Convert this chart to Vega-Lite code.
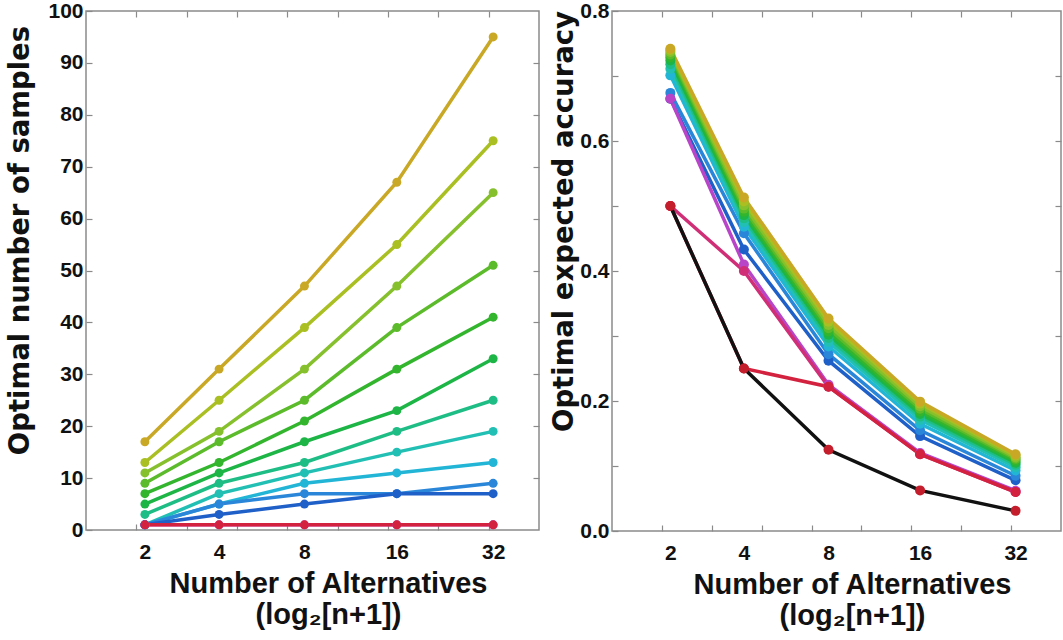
{
  "$schema": "https://vega.github.io/schema/vega-lite/v6.json",
  "padding": {"left": 6, "top": -1, "right": 0, "bottom": 0},
  "background": "white",
  "spacing": 9,
  "config": {
    "view": {"stroke": "#8a8a8a", "strokeWidth": 1.5},
    "axis": {
      "labelFont": "Liberation Sans",
      "labelFontWeight": "bold",
      "labelFontSize": 21,
      "labelColor": "#111",
      "titleFont": "Liberation Sans",
      "titleFontWeight": "bold",
      "titleColor": "#111",
      "tickColor": "#8a8a8a",
      "tickWidth": 1.2,
      "domain": false,
      "grid": false
    }
  },
  "datasets": {
    "samples": [
      {"s": "A", "n": 2, "v": 17}, {"s": "A", "n": 4, "v": 31}, {"s": "A", "n": 8, "v": 47}, {"s": "A", "n": 16, "v": 67}, {"s": "A", "n": 32, "v": 95},
      {"s": "B", "n": 2, "v": 13}, {"s": "B", "n": 4, "v": 25}, {"s": "B", "n": 8, "v": 39}, {"s": "B", "n": 16, "v": 55}, {"s": "B", "n": 32, "v": 75},
      {"s": "C", "n": 2, "v": 11}, {"s": "C", "n": 4, "v": 19}, {"s": "C", "n": 8, "v": 31}, {"s": "C", "n": 16, "v": 47}, {"s": "C", "n": 32, "v": 65},
      {"s": "D", "n": 2, "v": 9}, {"s": "D", "n": 4, "v": 17}, {"s": "D", "n": 8, "v": 25}, {"s": "D", "n": 16, "v": 39}, {"s": "D", "n": 32, "v": 51},
      {"s": "E", "n": 2, "v": 7}, {"s": "E", "n": 4, "v": 13}, {"s": "E", "n": 8, "v": 21}, {"s": "E", "n": 16, "v": 31}, {"s": "E", "n": 32, "v": 41},
      {"s": "F", "n": 2, "v": 5}, {"s": "F", "n": 4, "v": 11}, {"s": "F", "n": 8, "v": 17}, {"s": "F", "n": 16, "v": 23}, {"s": "F", "n": 32, "v": 33},
      {"s": "G", "n": 2, "v": 3}, {"s": "G", "n": 4, "v": 9}, {"s": "G", "n": 8, "v": 13}, {"s": "G", "n": 16, "v": 19}, {"s": "G", "n": 32, "v": 25},
      {"s": "H", "n": 2, "v": 1}, {"s": "H", "n": 4, "v": 7}, {"s": "H", "n": 8, "v": 11}, {"s": "H", "n": 16, "v": 15}, {"s": "H", "n": 32, "v": 19},
      {"s": "I", "n": 2, "v": 1}, {"s": "I", "n": 4, "v": 5}, {"s": "I", "n": 8, "v": 9}, {"s": "I", "n": 16, "v": 11}, {"s": "I", "n": 32, "v": 13},
      {"s": "J", "n": 2, "v": 1}, {"s": "J", "n": 4, "v": 5}, {"s": "J", "n": 8, "v": 7}, {"s": "J", "n": 16, "v": 7}, {"s": "J", "n": 32, "v": 9},
      {"s": "K", "n": 2, "v": 1}, {"s": "K", "n": 4, "v": 3}, {"s": "K", "n": 8, "v": 5}, {"s": "K", "n": 16, "v": 7}, {"s": "K", "n": 32, "v": 7},
      {"s": "M", "n": 2, "v": 1}, {"s": "M", "n": 4, "v": 1}, {"s": "M", "n": 8, "v": 1}, {"s": "M", "n": 16, "v": 1}, {"s": "M", "n": 32, "v": 1},
      {"s": "R", "n": 2, "v": 1}, {"s": "R", "n": 4, "v": 1}, {"s": "R", "n": 8, "v": 1}, {"s": "R", "n": 16, "v": 1}, {"s": "R", "n": 32, "v": 1}
    ],
    "accuracy": [
      {"s": "K", "n": 2, "v": 0.665}, {"s": "K", "n": 4, "v": 0.433}, {"s": "K", "n": 8, "v": 0.262}, {"s": "K", "n": 16, "v": 0.146}, {"s": "K", "n": 32, "v": 0.078},
      {"s": "J", "n": 2, "v": 0.674}, {"s": "J", "n": 4, "v": 0.458}, {"s": "J", "n": 8, "v": 0.272}, {"s": "J", "n": 16, "v": 0.155}, {"s": "J", "n": 32, "v": 0.085},
      {"s": "I", "n": 2, "v": 0.701}, {"s": "I", "n": 4, "v": 0.468}, {"s": "I", "n": 8, "v": 0.284}, {"s": "I", "n": 16, "v": 0.165}, {"s": "I", "n": 32, "v": 0.093},
      {"s": "H", "n": 2, "v": 0.711}, {"s": "H", "n": 4, "v": 0.475}, {"s": "H", "n": 8, "v": 0.291}, {"s": "H", "n": 16, "v": 0.171}, {"s": "H", "n": 32, "v": 0.098},
      {"s": "G", "n": 2, "v": 0.718}, {"s": "G", "n": 4, "v": 0.481}, {"s": "G", "n": 8, "v": 0.297}, {"s": "G", "n": 16, "v": 0.176}, {"s": "G", "n": 32, "v": 0.102},
      {"s": "F", "n": 2, "v": 0.724}, {"s": "F", "n": 4, "v": 0.486}, {"s": "F", "n": 8, "v": 0.302}, {"s": "F", "n": 16, "v": 0.180}, {"s": "F", "n": 32, "v": 0.105},
      {"s": "E", "n": 2, "v": 0.729}, {"s": "E", "n": 4, "v": 0.491}, {"s": "E", "n": 8, "v": 0.307}, {"s": "E", "n": 16, "v": 0.184}, {"s": "E", "n": 32, "v": 0.108},
      {"s": "D", "n": 2, "v": 0.733}, {"s": "D", "n": 4, "v": 0.496}, {"s": "D", "n": 8, "v": 0.312}, {"s": "D", "n": 16, "v": 0.188}, {"s": "D", "n": 32, "v": 0.111},
      {"s": "C", "n": 2, "v": 0.737}, {"s": "C", "n": 4, "v": 0.501}, {"s": "C", "n": 8, "v": 0.317}, {"s": "C", "n": 16, "v": 0.192}, {"s": "C", "n": 32, "v": 0.113},
      {"s": "B", "n": 2, "v": 0.740}, {"s": "B", "n": 4, "v": 0.507}, {"s": "B", "n": 8, "v": 0.322}, {"s": "B", "n": 16, "v": 0.196}, {"s": "B", "n": 32, "v": 0.116},
      {"s": "A", "n": 2, "v": 0.742}, {"s": "A", "n": 4, "v": 0.513}, {"s": "A", "n": 8, "v": 0.327}, {"s": "A", "n": 16, "v": 0.199}, {"s": "A", "n": 32, "v": 0.118},
      {"s": "P", "n": 2, "v": 0.665}, {"s": "P", "n": 4, "v": 0.41}, {"s": "P", "n": 8, "v": 0.225}, {"s": "P", "n": 16, "v": 0.12}, {"s": "P", "n": 32, "v": 0.062},
      {"s": "Q", "n": 2, "v": 0.5}, {"s": "Q", "n": 4, "v": 0.40}, {"s": "Q", "n": 8, "v": 0.222}, {"s": "Q", "n": 16, "v": 0.118}, {"s": "Q", "n": 32, "v": 0.06},
      {"s": "R", "n": 2, "v": 0.5}, {"s": "R", "n": 4, "v": 0.25}, {"s": "R", "n": 8, "v": 0.222}, {"s": "R", "n": 16, "v": 0.118}, {"s": "R", "n": 32, "v": 0.06}
    ],
    "chance": [
      {"n": 2, "v": 0.5}, {"n": 4, "v": 0.25}, {"n": 8, "v": 0.125}, {"n": 16, "v": 0.0625}, {"n": 32, "v": 0.031}
    ]
  },
  "hconcat": [
    {
      "width": 453,
      "height": 519,
      "data": {"name": "samples"},
      "layer": [
        {
          "mark": {"type": "line", "strokeWidth": 3.5, "point": {"filled": true, "size": 80, "opacity": 1}},
          "encoding": {
            "x": {
              "field": "n", "type": "quantitative",
              "scale": {"type": "symlog", "constant": 1, "domain": [1, 44.25], "nice": false, "zero": false},
              "axis": {"orient": "bottom", "values": [2, 4, 8, 16, 32], "format": "d", "ticks": false, "labelPadding": 11,
                       "title": ["Number of Alternatives", "(log₂[n+1])"], "titleFontSize": 29, "titleLineHeight": 31, "titlePadding": 7, "titleX": 242}
            },
            "y": {
              "field": "v", "type": "quantitative",
              "scale": {"domain": [0, 100], "nice": false},
              "axis": {"orient": "left", "values": [0, 10, 20, 30, 40, 50, 60, 70, 80, 90, 100], "tickSize": -6, "labelPadding": 9,
                       "title": "Optimal number of samples", "titleFont": "DejaVu Sans", "titleFontSize": 27.5, "titleY": 229, "titlePadding": 13}
            },
            "color": {
              "field": "s", "type": "nominal", "legend": null,
              "scale": {
                "domain": ["A", "B", "C", "D", "E", "F", "G", "H", "I", "J", "K", "M", "P", "Q", "R"],
                "range": ["#c9a825", "#a9bf22", "#86c02c", "#5cbb2a", "#33b52e", "#1db546", "#1fbd86", "#22c0b4", "#22b5d6", "#2a86d9", "#1f5fc8", "#c13fc4", "#b845c8", "#d02f78", "#d3223f"]
              }
            }
          }
        },
        {
          "mark": {"type": "point", "opacity": 0},
          "encoding": {
            "x": {
              "field": "n", "type": "quantitative",
              "scale": {"type": "symlog", "constant": 1, "domain": [1, 44.25], "nice": false, "zero": false},
              "axis": {"orient": "bottom", "values": [1.828, 3, 4.657, 7, 10.314, 15, 21.627, 31], "labels": false, "tickSize": -6, "title": null}
            },
            "y": {
              "field": "v", "type": "quantitative",
              "scale": {"domain": [0, 100], "nice": false},
              "axis": {"orient": "right", "values": [10, 20, 30, 40, 50, 60, 70, 80, 90], "labels": false, "tickSize": -6, "title": null}
            }
          }
        },
        {
          "mark": {"type": "point", "opacity": 0},
          "encoding": {
            "x": {
              "field": "n", "type": "quantitative",
              "scale": {"type": "symlog", "constant": 1, "domain": [1, 44.25], "nice": false, "zero": false},
              "axis": {"orient": "top", "values": [1.828, 3, 4.657, 7, 10.314, 15, 21.627, 31], "labels": false, "tickSize": -6, "title": null}
            },
            "y": {"field": "v", "type": "quantitative", "scale": {"domain": [0, 100], "nice": false}, "axis": null}
          }
        }
      ],
      "resolve": {"axis": {"x": "independent", "y": "independent"}}
    },
    {
      "width": 449,
      "height": 520,
      "layer": [
        {
          "data": {"name": "accuracy"},
          "mark": {"type": "line", "strokeWidth": 3.5, "point": {"filled": true, "size": 100, "opacity": 1}},
          "encoding": {
            "x": {
              "field": "n", "type": "quantitative",
              "scale": {"type": "symlog", "constant": 1, "domain": [1, 44.25], "nice": false, "zero": false},
              "axis": {"orient": "bottom", "values": [2, 4, 8, 16, 32], "format": "d", "ticks": false, "labelPadding": 11,
                       "title": ["Number of Alternatives", "(log₂[n+1])"], "titleFontSize": 29, "titleLineHeight": 31, "titlePadding": 7, "titleX": 240}
            },
            "y": {
              "field": "v", "type": "quantitative",
              "scale": {"domain": [0, 0.8], "nice": false},
              "axis": {"orient": "left", "values": [0, 0.1, 0.2, 0.3, 0.4, 0.5, 0.6, 0.7, 0.8], "tickSize": -6, "labelPadding": 9,
                       "labelExpr": "round(datum.value * 10) % 2 == 0 ? format(datum.value, '.1f') : ''",
                       "title": "Optimal expected accuracy", "titleFont": "DejaVu Sans", "titleFontSize": 27.5, "titleY": 210, "titlePadding": 1}
            },
            "color": {"field": "s", "type": "nominal", "legend": null}
          }
        },
        {
          "data": {"name": "chance"},
          "mark": {"type": "line", "strokeWidth": 3.5, "color": "#111111"},
          "encoding": {
            "x": {"field": "n", "type": "quantitative", "scale": {"type": "symlog", "constant": 1, "domain": [1, 44.25], "nice": false, "zero": false}, "axis": null},
            "y": {"field": "v", "type": "quantitative", "scale": {"domain": [0, 0.8], "nice": false}, "axis": null}
          }
        },
        {
          "data": {"name": "chance"},
          "mark": {"type": "point", "filled": true, "size": 100, "opacity": 1, "color": "#c41e2c"},
          "encoding": {
            "x": {"field": "n", "type": "quantitative", "scale": {"type": "symlog", "constant": 1, "domain": [1, 44.25], "nice": false, "zero": false}, "axis": null},
            "y": {"field": "v", "type": "quantitative", "scale": {"domain": [0, 0.8], "nice": false}, "axis": null}
          }
        },
        {
          "data": {"name": "chance"},
          "mark": {"type": "point", "opacity": 0},
          "encoding": {
            "x": {
              "field": "n", "type": "quantitative",
              "scale": {"type": "symlog", "constant": 1, "domain": [1, 44.25], "nice": false, "zero": false},
              "axis": {"orient": "bottom", "values": [1.828, 3, 4.657, 7, 10.314, 15, 21.627, 31], "labels": false, "tickSize": -6, "title": null}
            },
            "y": {
              "field": "v", "type": "quantitative",
              "scale": {"domain": [0, 0.8], "nice": false},
              "axis": {"orient": "right", "values": [0.1, 0.2, 0.3, 0.4, 0.5, 0.6, 0.7], "labels": false, "tickSize": -6, "title": null}
            }
          }
        },
        {
          "data": {"name": "chance"},
          "mark": {"type": "point", "opacity": 0},
          "encoding": {
            "x": {
              "field": "n", "type": "quantitative",
              "scale": {"type": "symlog", "constant": 1, "domain": [1, 44.25], "nice": false, "zero": false},
              "axis": {"orient": "top", "values": [1.828, 3, 4.657, 7, 10.314, 15, 21.627, 31], "labels": false, "tickSize": -6, "title": null}
            },
            "y": {"field": "v", "type": "quantitative", "scale": {"domain": [0, 0.8], "nice": false}, "axis": null}
          }
        }
      ],
      "resolve": {"axis": {"x": "independent", "y": "independent"}}
    }
  ]
}
